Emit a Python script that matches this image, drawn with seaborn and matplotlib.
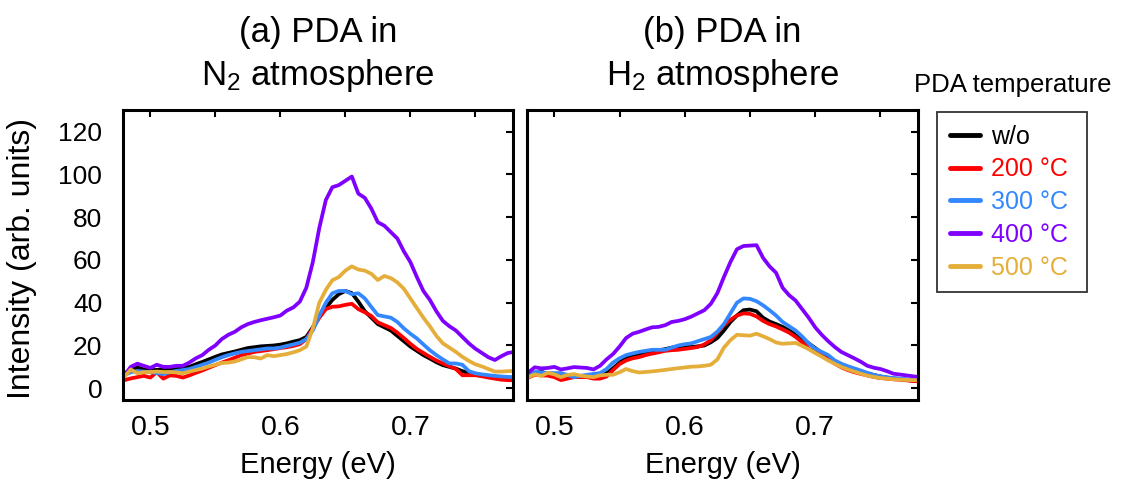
import numpy as np
import pandas as pd
import matplotlib
matplotlib.use("Agg")
import matplotlib.pyplot as plt
import seaborn as sns
from matplotlib.ticker import MultipleLocator

energy = np.round(np.arange(0.480, 0.7801, 0.005), 3)

temps = ["w/o", "200 °C", "300 °C", "400 °C", "500 °C"]
colors = ["#000000", "#ff0000", "#3388ff", "#8000ff", "#e5ae3a"]

# Panel (a): N2 atmosphere
n2_wo = [7, 8.5, 9.7, 8.8, 8.4, 8.6, 8.8, 8.9, 8.9, 9.5, 10, 11.2, 12.3, 13.5, 14.7, 15.8,
         16.5, 17.2, 18, 18.8, 19.2, 19.6, 19.8, 20, 20.4, 21, 21.8, 22.5, 24, 28.5, 33.5,
         37.5, 41.3, 44, 45.5, 44.5, 40.5, 36, 33, 30, 28.5, 27, 24.5, 22, 19.5, 17.5, 15.5,
         13.9, 12.2, 10.8, 10, 9.2, 8, 7.2, 6.5, 6, 5.4, 5, 4.7, 4.5, 4.4]
n2_200 = [3.8, 4.6, 5.2, 5.8, 5, 7.5, 4.5, 6, 5.8, 5, 6, 7.2, 8.3, 9.6, 10.8, 12,
          13.1, 14.3, 15.5, 16.2, 17, 17.4, 17.8, 18.3, 18.8, 19.2, 19.8, 20.6, 23, 28, 33,
          37, 38.1, 38.3, 39, 39.5, 37, 35.5, 33.8, 30.8, 29.5, 28.2, 26, 23.5, 20.8, 18.4, 16.5,
          14.7, 13, 11.6, 10.3, 9, 6.1, 6.1, 6.1, 5.6, 5, 4.5, 4, 3.8, 3.7]
n2_300 = [6.1, 7.5, 8.1, 7.8, 7.6, 7.1, 6.6, 7.5, 8.1, 8.5, 9, 10, 11, 12, 13.3, 14.5,
          15.5, 16.3, 17, 17.4, 17.8, 18.2, 18.6, 18.6, 19, 19.8, 20.5, 21.3, 23, 27, 34,
          40, 44.4, 45.5, 45.5, 44, 44.4, 42, 38, 34.2, 33.6, 33, 31, 28, 25.5, 23.3, 20.5,
          17.8, 15.5, 13.5, 11.6, 11.6, 11, 8, 7, 6.5, 6.1, 5.8, 5.5, 5.3, 5.2]
n2_400 = [6, 10, 11.5, 10.5, 9.5, 11, 10, 10, 10.5, 10.5, 12, 14, 15.5, 18, 20, 23,
          25, 26.4, 28.5, 30, 31, 31.8, 32.5, 33.2, 34, 36.3, 37.8, 40.5, 47, 59, 75,
          88, 94, 95, 97, 99, 91, 89, 84, 77.6, 76, 73, 70, 64, 59, 52, 45.5,
          41.3, 36, 31.5, 29, 27, 24, 21, 18.5, 16.5, 14.5, 13.2, 15, 16.5, 17]
n2_500 = [5.3, 8.8, 7, 7.5, 7.6, 7.8, 7.6, 7.6, 7.4, 7, 7.8, 8.5, 9.2, 10.2, 11, 11.8,
          12, 12.5, 13.5, 14.6, 14.5, 13.9, 15.5, 15, 15.5, 16, 16.8, 17.8, 19.5, 28, 40,
          46, 50.5, 52, 55, 57, 55.5, 55, 53.5, 50.6, 52.5, 51.5, 49.5, 46.5, 42, 37.5, 33,
          29, 24.5, 21, 19, 17, 14.7, 12.8, 11.2, 10.2, 9, 7.8, 7.8, 8, 8.1]

# Panel (b): H2 atmosphere
h2_wo = [6, 7, 7.8, 6.5, 5.5, 6, 6.3, 5.8, 5.2, 5.2, 5.2, 5.8, 7, 9.3, 12, 14.2,
         15, 15.7, 16.3, 16.9, 17.7, 18.3, 19, 19.3, 19.3, 19.3, 19.6, 20, 21.5, 23.5, 27,
         31, 34, 36.5, 36.8, 36, 33, 31.2, 30, 28.7, 27, 25, 23, 21, 18.8, 16.5, 14.5,
         12.5, 11, 9.9, 8.8, 7.8, 7, 6.2, 5.5, 5, 4.6, 4.3, 3.9, 3.5, 3.2]
h2_200 = [5, 6.3, 6, 5.9, 5.2, 3.8, 4.5, 5.2, 5.2, 5.2, 4.5, 4.5, 5.5, 8.5, 11.3, 13,
          14, 14.6, 15.5, 16.2, 16.8, 17.5, 17.8, 18, 18.4, 18.8, 19.3, 20.5, 22.5, 26, 29.5,
          32, 34, 35, 34.8, 33.6, 31.5, 30, 28.9, 27.5, 26, 24, 21.5, 18.5, 16.7, 15.2, 13.5,
          11.5, 9.8, 8.5, 7.5, 6.7, 6, 5.3, 4.8, 4.5, 4.2, 4, 3.7, 3.4, 3.2]
h2_300 = [6.3, 7.6, 7.5, 7.1, 7.1, 7.1, 6.2, 5.2, 5.8, 6.3, 6.7, 7.1, 9, 12, 14, 15.5,
          16.3, 17, 17.5, 18, 18, 18, 19, 20, 20.6, 21, 22, 23, 24, 26.5, 30,
          35, 40, 42, 41.8, 40.7, 38.8, 36.5, 34, 31, 29, 27, 24.2, 21, 18.5, 17, 15.5,
          13, 11.5, 10.3, 9.3, 8.3, 7.2, 6.2, 5.6, 5.1, 4.8, 4.5, 4.2, 3.9, 3.7]
h2_400 = [7.4, 9.8, 9.3, 9.5, 10, 8.8, 9.3, 9.9, 9.7, 9.5, 8.8, 10.5, 13.5, 16, 19.5, 23.5,
          25.5, 26.4, 27.5, 28.5, 28.7, 29.5, 31, 31.5, 32.3, 33.5, 35, 36.5, 39.5, 44.5, 52,
          59, 65, 66.5, 66.7, 66.9, 61, 57, 54, 47, 43.5, 41, 37, 33, 28.5, 25, 22,
          19.3, 17, 15.5, 14, 12.4, 10.5, 9.6, 9, 8, 6.8, 6.4, 6, 5.6, 5.2]
h2_500 = [5.2, 6.5, 5.8, 7.2, 6.5, 5.2, 6.2, 6.6, 5.9, 5.5, 5.2, 6, 6.3, 6.3, 7.5, 9,
          8, 7.4, 7.6, 7.9, 8.2, 8.6, 9, 9.4, 9.7, 10.1, 10.2, 10.5, 11, 13.5, 19,
          22.5, 25, 24.8, 24.6, 25.5, 24.3, 23, 21.4, 20.8, 21, 21.2, 19.8, 18.3, 16.5, 14.8, 13,
          11.4, 10, 8.8, 7.8, 6.8, 5.9, 5.3, 4.8, 4.5, 4.2, 4, 3.9, 3.8, 3.7]

titles = ["(a) PDA in\nN$_2$ atmosphere", "(b) PDA in\nH$_2$ atmosphere"]
x_ticks = [0.5, 0.6, 0.7]
y_ticks = [0, 20, 40, 60, 80, 100, 120]


def make_df(series):
    frames = []
    for t, vals in zip(temps, series):
        frames.append(pd.DataFrame({"energy": energy, "intensity": vals, "temp": t}))
    return pd.concat(frames, ignore_index=True)


sns.set_theme(style="white")
plt.rcParams["font.family"] = ["Liberation Sans", "DejaVu Sans"]
plt.rcParams["mathtext.fontset"] = "custom"
plt.rcParams["mathtext.rm"] = "Liberation Sans"
plt.rcParams["mathtext.it"] = "Liberation Sans:italic"
for key in ["text.color", "axes.labelcolor", "xtick.color", "ytick.color"]:
    plt.rcParams[key] = "black"

fig = plt.figure(figsize=(11.21, 4.83), dpi=100)
ax1 = fig.add_axes([0.1097, 0.1718, 0.348, 0.600])
ax2 = fig.add_axes([0.4701, 0.1718, 0.349, 0.600])

palette = dict(zip(temps, colors))
for ax, series, title in [(ax1, [n2_wo, n2_200, n2_300, n2_400, n2_500], titles[0]),
                          (ax2, [h2_wo, h2_200, h2_300, h2_400, h2_500], titles[1])]:
    df = make_df(series)
    sns.lineplot(data=df, x="energy", y="intensity", hue="temp", hue_order=temps,
                 palette=palette, linewidth=2.7, ax=ax, legend=(ax is ax2))
    ax.set_xlim(0.479, 0.779)
    ax.set_ylim(-5.5, 130)
    ax.set_xticks(x_ticks)
    ax.set_xticklabels([f"{v:.1f}" for v in x_ticks])
    ax.xaxis.set_minor_locator(MultipleLocator(0.05))
    ax.set_yticks(y_ticks)
    ax.tick_params(which="both", direction="in", top=True, right=True, length=5,
                   width=1.5, color="black")
    ax.tick_params(axis="x", labelsize=20.5, pad=11)
    ax.tick_params(axis="y", labelsize=19, pad=15)
    for sp in ax.spines.values():
        sp.set_linewidth(2.2)
        sp.set_color("black")
    ax.set_xlabel("Energy (eV)", fontsize=21, labelpad=7)
    ax.set_title(title, fontsize=25, pad=18, linespacing=1.3)
    ax.grid(False)

ax1.set_ylabel("Intensity (arb. units)", fontsize=23)
ax1.yaxis.set_label_coords(-0.22, 0.49)
ax2.set_ylabel("")
ax2.set_yticklabels([])

handles, labels = ax2.get_legend_handles_labels()
ax2.get_legend().remove()
leg = fig.legend(handles, [lab + "\u00a0" for lab in labels], loc="upper left",
                 bbox_to_anchor=(0.836, 0.768),
                 bbox_transform=fig.transFigure, fontsize=18, frameon=True,
                 fancybox=False, edgecolor="black", handlelength=1.2,
                 labelspacing=0.35, borderpad=0.5, handletextpad=0.45,
                 borderaxespad=0)
leg.get_frame().set_linewidth(1.3)
for txt, c in zip(leg.get_texts(), colors):
    txt.set_color(c)
for ln in leg.get_lines():
    ln.set_linewidth(3.5)
fig.text(0.903, 0.824, "PDA temperature", ha="center", va="center", fontsize=18.5)

fig.savefig("out.png", dpi=100)
